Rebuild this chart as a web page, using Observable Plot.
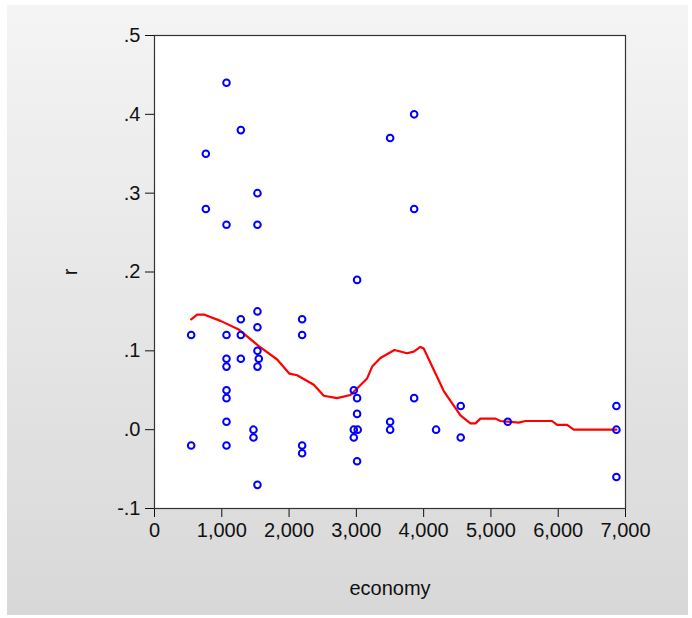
<!DOCTYPE html>
<html>
<head>
<meta charset="utf-8">
<script src="https://cdn.jsdelivr.net/npm/d3@7"></script>
<script src="https://cdn.jsdelivr.net/npm/@observablehq/plot@0.6"></script>
<style>
  html, body { margin: 0; padding: 0; background: #ffffff; }
  #bg { position: absolute; left: 7px; top: 5px; width: 681px; height: 610px;
        background: linear-gradient(to bottom, #f4f4f4, #d8d8d8); }
  #chart { position: absolute; left: 0; top: 0; }
  #chart svg { background: transparent !important; }
</style>
</head>
<body>
<div id="bg"></div>
<div id="chart"></div>
<script>
// Scatter data: economy (x) vs r (y)
const economy = [545, 545, 763, 763, 1070, 1070, 1070, 1070, 1070, 1070, 1070, 1070, 1070,
  1283, 1283, 1283, 1283, 1530, 1530, 1530, 1530, 1530, 1550, 1530, 1530, 1471, 1471,
  2194, 2194, 2194, 2194, 3011, 2962, 3011, 3011, 2962, 3020, 2962, 3011,
  3502, 3502, 3502, 3859, 3859, 3859, 4185, 4551, 4551, 5250, 6865, 6865, 6865];
const r = [0.12, -0.02, 0.35, 0.28, 0.44, 0.26, 0.12, 0.09, 0.08, 0.05, 0.04, 0.01, -0.02,
  0.38, 0.14, 0.12, 0.09, 0.30, 0.26, 0.15, 0.13, 0.10, 0.09, 0.08, -0.07, 0.00, -0.01,
  0.14, 0.12, -0.02, -0.03, 0.19, 0.05, 0.04, 0.02, 0.00, 0.00, -0.01, -0.04,
  0.37, 0.01, 0.00, 0.40, 0.28, 0.04, 0.00, 0.03, -0.01, 0.01, 0.03, 0.00, -0.06];

// Smoothed (red) curve
const fitX = [545, 634, 733, 981, 1253, 1550, 1823, 2006, 2120, 2367, 2516, 2714, 2912,
  3160, 3235, 3358, 3566, 3754, 3853, 3952, 4001, 4299, 4547, 4695, 4770, 4844, 5067,
  5141, 5414, 5513, 5909, 5983, 6132, 6231, 6865];
const fitY = [0.140, 0.146, 0.146, 0.138, 0.127, 0.106, 0.089, 0.071, 0.069, 0.057, 0.043,
  0.040, 0.044, 0.065, 0.080, 0.091, 0.101, 0.097, 0.099, 0.105, 0.103, 0.049, 0.018,
  0.008, 0.008, 0.014, 0.014, 0.011, 0.009, 0.011, 0.011, 0.006, 0.006, 0.000, 0.000];

const yTicks = [-0.1, 0, 0.1, 0.2, 0.3, 0.4, 0.5];
const xTicks = [0, 1000, 2000, 3000, 4000, 5000, 6000, 7000];

const points = economy.map((e, i) => ({economy: e, r: r[i]}));
const fit = fitX.map((e, i) => ({economy: e, r: fitY[i]}));

const fontFam = "'Liberation Sans', Arial, sans-serif";

const chart = Plot.plot({
  width: 692,
  height: 618,
  marginLeft: 154,
  marginRight: 67,
  marginTop: 35,
  marginBottom: 110,
  style: {fontFamily: fontFam, fontSize: "20px", color: "#111", background: "transparent"},
  x: {domain: [0, 7000]},
  y: {domain: [-0.1, 0.5]},
  marks: [
    Plot.frame({fill: "#ffffff"}),
    Plot.axisY({ticks: yTicks, tickSize: 9, tickPadding: 5, fontSize: 20,
      tickFormat: d => d.toFixed(1).replace("0.", "."),
      label: "r", labelAnchor: "center", labelOffset: 92, labelArrow: "none"}),
    Plot.axisX({ticks: xTicks, tickSize: 9, tickPadding: 5, fontSize: 20,
      tickFormat: d3.format(","),
      label: "economy", labelAnchor: "center", labelOffset: 86, labelArrow: "none"}),
    Plot.line(fit, {x: "economy", y: "r", stroke: "#ff0000", strokeWidth: 2.2}),
    Plot.dot(points, {x: "economy", y: "r", r: 3.3, stroke: "#0000ff", strokeWidth: 2, fill: "none"}),
    Plot.frame({stroke: "#333333", strokeWidth: 1.2})
  ]
});
document.getElementById("chart").appendChild(chart);
</script>
</body>
</html>
